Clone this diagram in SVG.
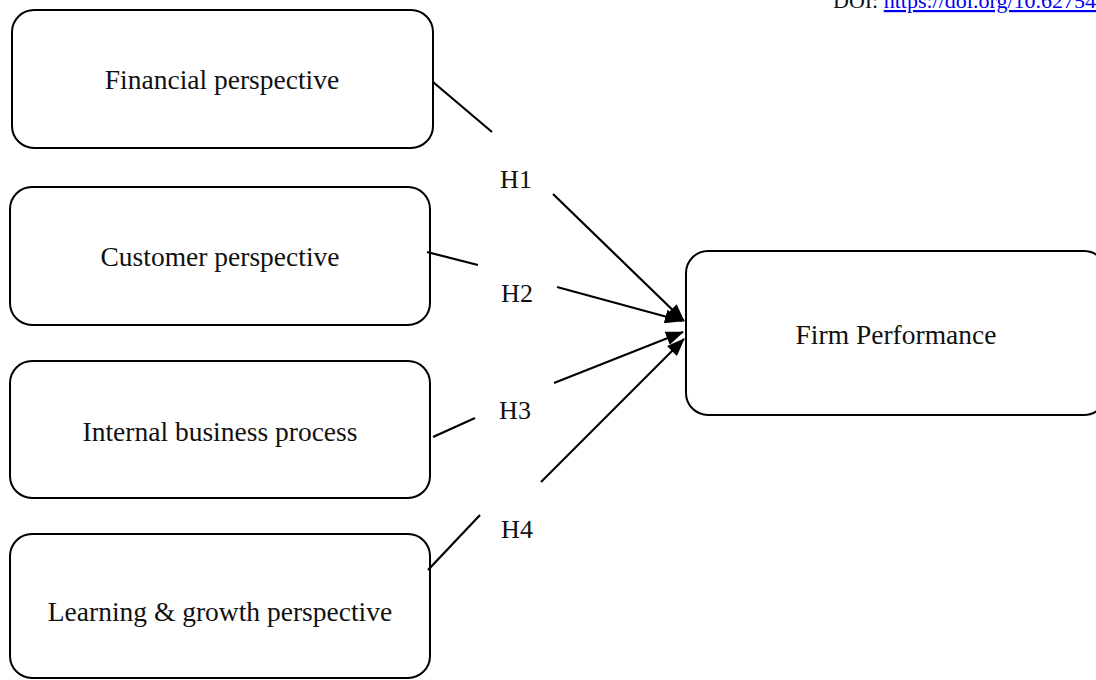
<svg xmlns="http://www.w3.org/2000/svg" width="1096" height="680" viewBox="0 0 1096 680">
<style>
.box{fill:#fff;stroke:#000;stroke-width:2}
.t{font-family:"Liberation Serif",serif;font-size:27.5px;fill:#111;text-anchor:middle}
.h{font-family:"Liberation Serif",serif;font-size:26px;fill:#111;text-anchor:middle}
.c{stroke:#000;stroke-width:2.2;fill:none}
</style>
<defs>
<marker id="ah" markerWidth="18" markerHeight="14" refX="17" refY="7" orient="auto" markerUnits="userSpaceOnUse" viewBox="0 0 18 14">
<path d="M0,0 L18,7 L0,14 Z" fill="#000"/>
</marker>
</defs>
<rect width="1096" height="680" fill="#fff"/>
<text x="833" y="8" style="font-family:'Liberation Serif',serif;font-size:22px;fill:#111">DOI: <tspan fill="#0000ee" text-decoration="underline">https://doi.org/10.62754</tspan></text>
<g id="financial"><rect class="box" x="12" y="10" width="421" height="138" rx="22"/><text class="t" x="222" y="89">Financial perspective</text></g>
<g id="customer"><rect class="box" x="10" y="187" width="420" height="138" rx="22"/><text class="t" x="220" y="266">Customer perspective</text></g>
<g id="internal"><rect class="box" x="10" y="361" width="420" height="137" rx="22"/><text class="t" x="220" y="441">Internal business process</text></g>
<g id="learning"><rect class="box" x="10" y="534" width="420" height="144" rx="22"/><text class="t" x="220" y="621">Learning &amp; growth perspective</text></g>
<g id="firm"><rect class="box" x="686" y="251" width="420" height="164" rx="22"/><text class="t" x="896" y="344">Firm Performance</text></g>
<g id="connectors">
<line class="c" x1="433" y1="82" x2="492" y2="132"/>
<line class="c" x1="553" y1="194" x2="684" y2="321" marker-end="url(#ah)"/>
<line class="c" x1="427" y1="252" x2="478" y2="265"/>
<line class="c" x1="557" y1="287" x2="682" y2="321" marker-end="url(#ah)"/>
<line class="c" x1="554" y1="383" x2="683" y2="332" marker-end="url(#ah)"/>
<line class="c" x1="433" y1="437" x2="475" y2="418"/>
<line class="c" x1="428" y1="570" x2="480" y2="515"/>
<line class="c" x1="541" y1="482" x2="684" y2="339" marker-end="url(#ah)"/>
<text class="h" x="516" y="188">H1</text>
<text class="h" x="517" y="302">H2</text>
<text class="h" x="515" y="419">H3</text>
<text class="h" x="517" y="538">H4</text>
</g>
</svg>
